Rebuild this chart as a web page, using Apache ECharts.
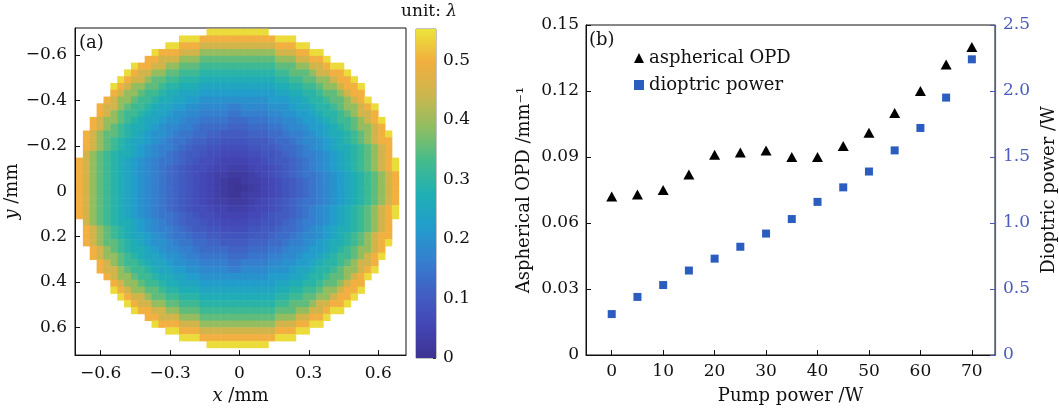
<!DOCTYPE html>
<html>
<head>
<meta charset="utf-8">
<script src="https://cdn.jsdelivr.net/npm/echarts@6/dist/echarts.min.js"></script>
<style>
  html, body { margin: 0; padding: 0; background: #fff; }
  #chart { width: 1059px; height: 410px; }
</style>
</head>
<body>
<div id="chart"></div>
<script>
// ---- (a) OPD map ---------------------------------------------------------
// Half-width (in cells) of the aperture for each of the 47 map rows, top to bottom.
const mapRowHalfWidths = [4, 8, 10, 12, 13, 15, 16, 17, 18, 18, 19, 20, 20, 21, 21, 22, 22, 22, 22, 23,
  23, 23, 23, 23, 23, 23, 23, 23, 22, 22, 22, 22, 21, 21, 20, 20, 19, 18, 18, 17,
  16, 15, 13, 12, 10, 8, 4];
// OPD (unit: wavelength) for each ring of cells, counted outward from the centre.
const opdByRing = [0.005, 0.012, 0.022, 0.035, 0.048, 0.060, 0.073, 0.087, 0.100, 0.115,
  0.130, 0.148, 0.165, 0.183, 0.200, 0.222, 0.245, 0.268, 0.292, 0.320,
  0.352, 0.392, 0.450, 0.500, 0.545];
const mapXTicks = [-0.6, -0.3, 0, 0.3, 0.6];
const mapYTicks = [-0.6, -0.4, -0.2, 0, 0.2, 0.4, 0.6];
const colorbarMax = 0.553;

// ---- (b) pump power sweep ------------------------------------------------
const pumpPower = [0, 5, 10, 15, 20, 25, 30, 35, 40, 45, 50, 55, 60, 65, 70];
const asphericalOPD = [0.072, 0.073, 0.075, 0.082, 0.091, 0.092, 0.093, 0.090, 0.090, 0.095,
  0.101, 0.110, 0.120, 0.132, 0.140];
const dioptricPower = [0.31, 0.44, 0.53, 0.64, 0.73, 0.82, 0.92, 1.03, 1.16, 1.27,
  1.39, 1.55, 1.72, 1.95, 2.24];
const pumpTicks = [0, 10, 20, 30, 40, 50, 60, 70];

// Parula-like colour scale
const parula = ['#3c3391', '#4446b6', '#4160c4', '#3580cf', '#229dcc', '#20b0b2',
  '#45bb8c', '#8fbe62', '#ccb64d', '#f1ae40', '#ebe43a'];

// Map grid geometry (mm)
const CELL_W = 0.02968, CELL_H = 0.0299;
const ORIGIN_X = -0.7066 + CELL_W / 2, ORIGIN_Y = -0.716 + CELL_H / 2;
const CENTER_COL = 22.7, CENTER_ROW = 23, ROW_STRETCH = 1.04;

const mapCells = [];
mapRowHalfWidths.forEach((hw, row) => {
  for (let col = 23 - hw; col <= 23 + hw; col++) {
    const ring = Math.min(opdByRing.length - 1,
      Math.round(Math.hypot(col - CENTER_COL, (row - CENTER_ROW) * ROW_STRETCH)));
    mapCells.push([ORIGIN_X + col * CELL_W, ORIGIN_Y + row * CELL_H, opdByRing[ring]]);
  }
});

const FONT = 'DejaVu Serif';
const INK = '#111';
const BLUE_AXIS = '#4a5bbd';
const minusFmt = (v, digits) => v === 0 ? '0' : (v < 0 ? '\u2212' : '') + Math.abs(v).toFixed(digits);

const chart = echarts.init(document.getElementById('chart'), null, { renderer: 'canvas' });

const axisCommon = {
  splitLine: { show: false },
  axisLine: { show: true, onZero: false, lineStyle: { color: INK, width: 1 } },
  axisTick: { show: true, inside: true, length: 5, lineStyle: { color: INK } },
  axisLabel: { color: INK, fontFamily: FONT, fontSize: 17 },
  nameTextStyle: { color: INK, fontFamily: FONT, fontSize: 18 }
};

const option = {
  animation: false,
  backgroundColor: '#fff',
  textStyle: { fontFamily: FONT },
  grid: [
    { left: 75, top: 28, width: 331, height: 330, show: true, borderColor: INK, borderWidth: 1 },
    { left: 416, top: 29, width: 20, height: 329, show: true, borderColor: '#888', borderWidth: 1 },
    { left: 586, top: 25, width: 411, height: 333, show: true, borderColor: INK, borderWidth: 1 }
  ],
  xAxis: [
    Object.assign({}, axisCommon, {
      gridIndex: 0, type: 'value', min: -0.711, max: 0.720,
      axisTick: Object.assign({}, axisCommon.axisTick, { customValues: mapXTicks }),
      axisLabel: Object.assign({}, axisCommon.axisLabel, { customValues: mapXTicks, margin: 10,
        formatter: v => minusFmt(v, 1) }),
      name: '{i|x} /mm', nameLocation: 'middle', nameGap: 30,
      nameTextStyle: Object.assign({}, axisCommon.nameTextStyle, {
        rich: { i: { fontStyle: 'italic', fontFamily: FONT, fontSize: 18, color: INK } } })
    }),
    { gridIndex: 1, type: 'category', data: ['bar'], show: false },
    Object.assign({}, axisCommon, {
      gridIndex: 2, type: 'value', min: -5, max: 74.5,
      axisTick: Object.assign({}, axisCommon.axisTick, { customValues: pumpTicks }),
      axisLabel: Object.assign({}, axisCommon.axisLabel, { customValues: pumpTicks, margin: 8 }),
      name: 'Pump power /W', nameLocation: 'middle', nameGap: 32
    })
  ],
  yAxis: [
    Object.assign({}, axisCommon, {
      gridIndex: 0, type: 'value', inverse: true, min: -0.719, max: 0.722,
      axisTick: Object.assign({}, axisCommon.axisTick, { customValues: mapYTicks }),
      axisLabel: Object.assign({}, axisCommon.axisLabel, { customValues: mapYTicks, margin: 8,
        formatter: v => minusFmt(v, 1) }),
      name: '{i|y} /mm', nameLocation: 'middle', nameGap: 45, nameRotate: 90,
      nameTextStyle: Object.assign({}, axisCommon.nameTextStyle, {
        rich: { i: { fontStyle: 'italic', fontFamily: FONT, fontSize: 18, color: INK } } })
    }),
    Object.assign({}, axisCommon, {
      gridIndex: 1, type: 'value', position: 'right', min: 0, max: colorbarMax, interval: 0.1,
      axisLine: { show: false },
      axisTick: { show: true, inside: true, length: 3, lineStyle: { color: '#333' } },
      axisLabel: Object.assign({}, axisCommon.axisLabel, { margin: 7,
        showMaxLabel: false, formatter: v => minusFmt(v, 1) })
    }),
    Object.assign({}, axisCommon, {
      gridIndex: 2, type: 'value', min: 0, max: 0.15, interval: 0.03,
      axisLabel: Object.assign({}, axisCommon.axisLabel, { margin: 7, formatter: v => minusFmt(v, 2) }),
      name: 'Aspherical OPD /mm\u207B\u00B9', nameLocation: 'middle', nameGap: 53, nameRotate: 90
    }),
    Object.assign({}, axisCommon, {
      gridIndex: 2, type: 'value', position: 'right', min: 0, max: 2.5, interval: 0.5,
      axisLine: { show: true, onZero: false, lineStyle: { color: BLUE_AXIS, width: 1.2 } },
      axisTick: { show: true, inside: true, length: 5, lineStyle: { color: BLUE_AXIS } },
      axisLabel: Object.assign({}, axisCommon.axisLabel, { color: BLUE_AXIS, margin: 8,
        formatter: v => minusFmt(v, 1) }),
      name: 'Dioptric power /W', nameLocation: 'middle', nameGap: 45, nameRotate: 90
    })
  ],
  visualMap: {
    show: false, type: 'continuous', seriesIndex: 0, dimension: 2,
    min: 0, max: colorbarMax, inRange: { color: parula }
  },
  legend: {
    left: 629, top: 44, orient: 'vertical', itemWidth: 10, itemHeight: 10, itemGap: 9,
    textStyle: { color: INK, fontFamily: FONT, fontSize: 18, lineHeight: 18 },
    data: [
      { name: 'aspherical OPD', icon: 'triangle' },
      { name: 'dioptric power', icon: 'rect' }
    ]
  },
  graphic: [
    { type: 'text', left: 79, top: 34, style: { text: '(a)', font: '18px "DejaVu Serif"', fill: INK } },
    { type: 'text', left: 589, top: 31, style: { text: '(b)', font: '18px "DejaVu Serif"', fill: INK } },
    { type: 'text', left: 401, top: 3, style: {
        text: 'unit: {i|\u03BB}', font: '17px "DejaVu Serif"', fill: INK,
        rich: { i: { fontStyle: 'italic', fontFamily: FONT, fontSize: 17, fill: INK } } } }
  ],
  series: [
    {
      type: 'custom', name: 'OPD map', xAxisIndex: 0, yAxisIndex: 0, clip: true,
      data: mapCells,
      renderItem(params, api) {
        const x = api.value(0), y = api.value(1);
        const p0 = api.coord([x - CELL_W / 2, y - CELL_H / 2]);
        const p1 = api.coord([x + CELL_W / 2, y + CELL_H / 2]);
        return {
          type: 'rect',
          shape: {
            x: Math.min(p0[0], p1[0]), y: Math.min(p0[1], p1[1]),
            width: Math.abs(p1[0] - p0[0]) + 0.5, height: Math.abs(p1[1] - p0[1]) + 0.5
          },
          style: { fill: api.visual('color') }
        };
      }
    },
    {
      type: 'bar', name: 'colorbar', xAxisIndex: 1, yAxisIndex: 1, barWidth: '100%',
      data: [colorbarMax], silent: true,
      itemStyle: {
        color: new echarts.graphic.LinearGradient(0, 1, 0, 0,
          parula.map((c, i) => ({ offset: i / (parula.length - 1), color: c })))
      }
    },
    {
      type: 'scatter', name: 'aspherical OPD', xAxisIndex: 2, yAxisIndex: 2,
      symbol: 'triangle', symbolSize: [11, 10],
      itemStyle: { color: '#000', opacity: 1 },
      data: pumpPower.map((p, i) => [p, asphericalOPD[i]])
    },
    {
      type: 'scatter', name: 'dioptric power', xAxisIndex: 2, yAxisIndex: 3,
      symbol: 'rect', symbolSize: 8,
      itemStyle: { color: '#2b5cc0', opacity: 1 },
      data: pumpPower.map((p, i) => [p, dioptricPower[i]])
    }
  ]
};

chart.setOption(option);
</script>
</body>
</html>
